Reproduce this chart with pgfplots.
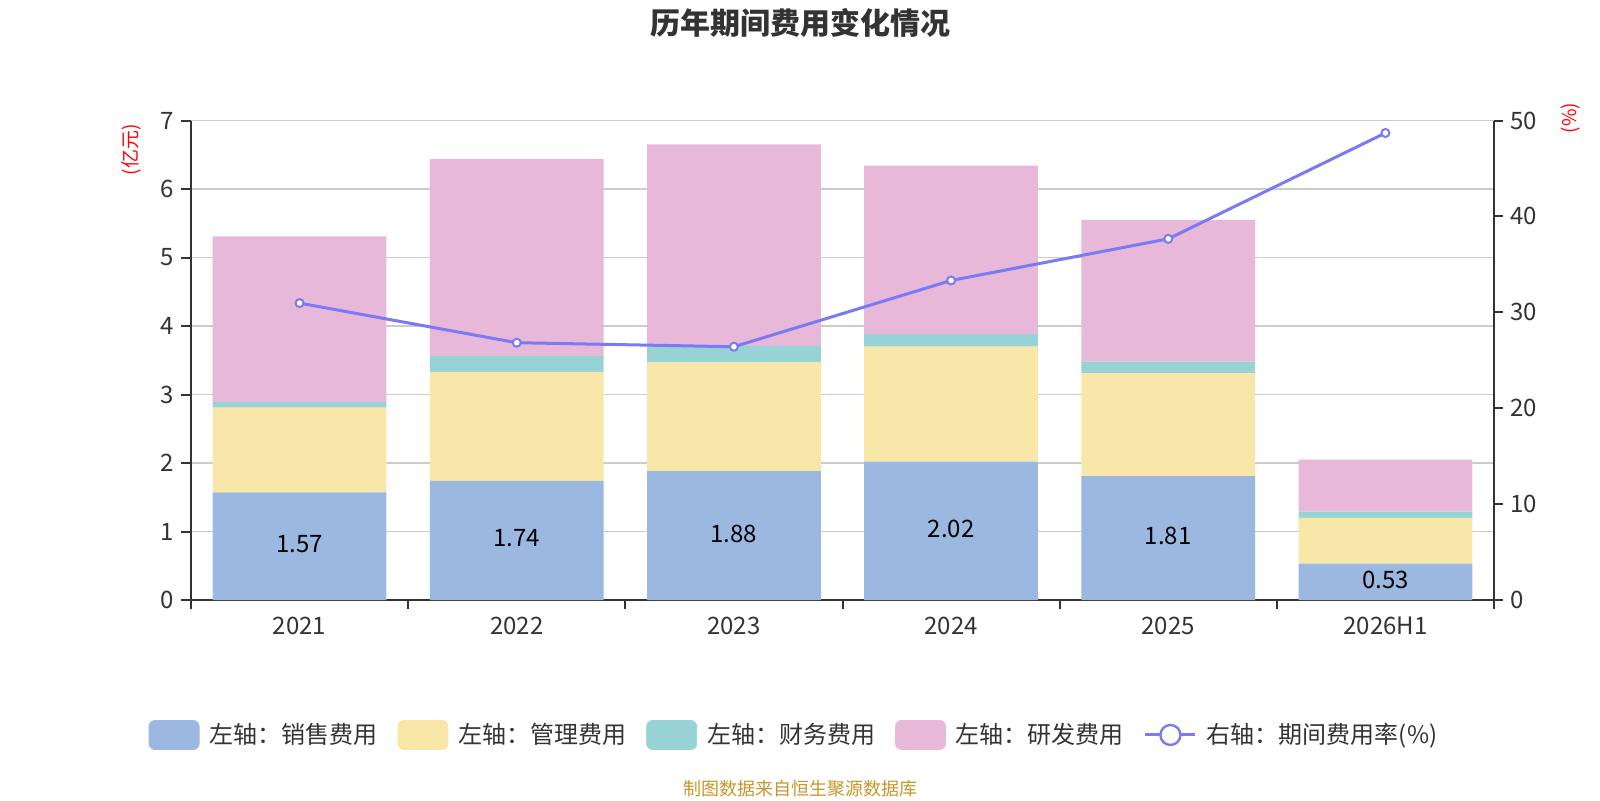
\documentclass[border=0pt]{standalone}
\usepackage{fontspec}
\setmainfont{Noto Sans CJK SC}
\usepackage{pgfplots}
\pgfplotsset{compat=1.18}
\definecolor{cblue}{RGB}{155,184,225}
\definecolor{cyellow}{RGB}{248,231,169}
\definecolor{cteal}{RGB}{151,211,212}
\definecolor{cpink}{RGB}{231,184,216}
\definecolor{cline}{RGB}{122,122,245}
\definecolor{ctext}{RGB}{51,51,51}
\definecolor{cgrid}{RGB}{204,204,204}
\definecolor{csrc}{RGB}{200,150,40}
\begin{document}
\begin{tikzpicture}
\useasboundingbox (0,0) rectangle (800pt,400pt);
\pgfplotsset{
  base/.style={
    at={(95.5pt,100pt)}, anchor=south west, scale only axis,
    width=651.5pt, height=239.75pt,
    xmin=-0.5, xmax=5.5,
    ticklabel style={font=\fontsize{12}{14}\selectfont, text=ctext},
    /pgf/number format/assume math mode=true,
    tick align=outside,
  }
}
% bars
\begin{axis}[base, ybar stacked, bar width=0.8,
  ymin=0, ymax=7, ytick={0,...,7},
  axis x line*=bottom, axis y line*=left,
  axis line style={ctext, line width=1pt},
  xtick={0,...,5}, xticklabels={2021,2022,2023,2024,2025,2026H1},
  minor xtick={-0.5,0.5,...,5.5},
  major x tick style={draw=none},
  minor x tick style={ctext, line width=1pt},
  minor tick length=4.5pt,
  ytick style={ctext, line width=1pt}, major tick length=5pt,
  ymajorgrids, grid style={cgrid, line width=0.7pt},
]
\addplot[fill=cblue, draw=none] coordinates {(0,1.57) (1,1.74) (2,1.88) (3,2.02) (4,1.81) (5,0.53)};
\addplot[fill=cyellow, draw=none] coordinates {(0,1.24) (1,1.59) (2,1.59) (3,1.68) (4,1.50) (5,0.67)};
\addplot[fill=cteal, draw=none] coordinates {(0,0.08) (1,0.23) (2,0.24) (3,0.18) (4,0.17) (5,0.09)};
\addplot[fill=cpink, draw=none] coordinates {(0,2.42) (1,2.88) (2,2.94) (3,2.46) (4,2.07) (5,0.76)};
\end{axis}
% value labels of the first series
\begin{axis}[base, hide axis, ymin=0, ymax=7]
\addplot[draw=none, mark=none, nodes near coords, point meta=explicit symbolic,
  nodes near coords style={anchor=center, font=\fontsize{12}{14}\selectfont, text=black}]
  coordinates {(0,0.81)[1.57] (1,0.90)[1.74] (2,0.97)[1.88] (3,1.04)[2.02] (4,0.93)[1.81] (5,0.29)[0.53]};
\end{axis}
% line
\begin{axis}[base, ymin=0, ymax=50, ytick={0,10,...,50},
  axis y line*=right, axis x line=none, xtick=\empty,
  axis line style={ctext, line width=1pt},
  ytick style={ctext, line width=1pt}, major tick length=4.5pt,
  legend columns=5,
  legend style={at={(0.462,-0.2815)}, anchor=center, draw=none, fill=none,
    font=\fontsize{12}{14}\selectfont, text=ctext,
    nodes={inner sep=0pt},
    /tikz/every odd column/.append style={column sep=5pt},
    /tikz/every even column/.append style={column sep=10pt}},
  legend cell align=left,
]
\addlegendimage{legend image code/.code={\fill[cblue, rounded corners=3pt] (0pt,-7.25pt) rectangle (25pt,7.25pt);}}
\addlegendentry{左轴：销售费用}
\addlegendimage{legend image code/.code={\fill[cyellow, rounded corners=3pt] (0pt,-7.25pt) rectangle (25pt,7.25pt);}}
\addlegendentry{左轴：管理费用}
\addlegendimage{legend image code/.code={\fill[cteal, rounded corners=3pt] (0pt,-7.25pt) rectangle (25pt,7.25pt);}}
\addlegendentry{左轴：财务费用}
\addlegendimage{legend image code/.code={\fill[cpink, rounded corners=3pt] (0pt,-7.25pt) rectangle (25pt,7.25pt);}}
\addlegendentry{左轴：研发费用}
\addplot[cline, line width=1.5pt, mark=*, mark size=2pt,
  mark options={fill=white, draw=cline, line width=1pt},
  legend image code/.code={\draw[cline, line width=1.5pt] (0pt,0pt) -- (25pt,0pt);
    \draw[cline, line width=1.2pt, fill=white] (12.5pt,0pt) circle (5pt);}]
  coordinates {(0,30.96) (1,26.83) (2,26.41) (3,33.32) (4,37.66) (5,48.7)};
\addlegendentry{右轴：期间费用率(\%)}
\end{axis}
\node[font=\fontsize{15}{18}\selectfont\bfseries, text=ctext] at (400pt,388.75pt) {历年期间费用变化情况};
\node[rotate=90, text=red, font=\fontsize{9.5}{11}\selectfont] at (65.5pt,325pt) {(亿元)};
\node[rotate=90, text=red, font=\fontsize{9.5}{11}\selectfont] at (785.5pt,341pt) {(\%)};
\node[text=csrc, font=\fontsize{9}{11}\selectfont] at (400pt,5.5pt) {制图数据来自恒生聚源数据库};
\end{tikzpicture}
\end{document}
